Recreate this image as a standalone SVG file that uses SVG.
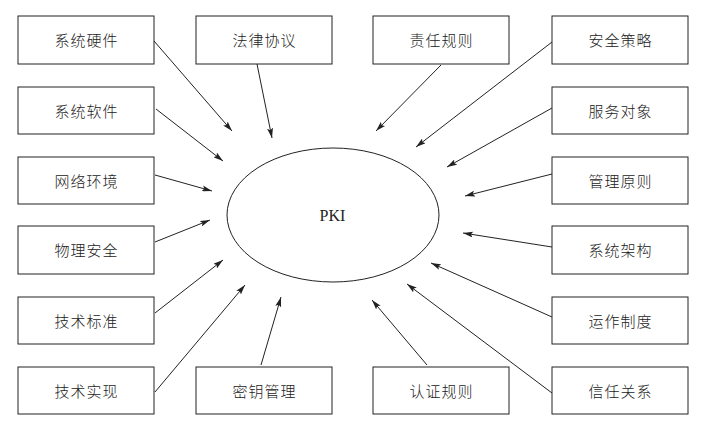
<svg xmlns="http://www.w3.org/2000/svg" width="701" height="422" viewBox="0 0 701 422">
<style>
.box{fill:#fff;stroke:#222;stroke-width:1}
.t{font-family:"Noto Sans CJK SC","Noto Sans",sans-serif;font-size:15px;font-weight:300;fill:#222;text-anchor:middle;letter-spacing:1px}
.c{stroke:#222;stroke-width:1;fill:none;marker-end:url(#ah)}
</style>
<defs>
<marker id="ah" viewBox="0 0 10 6" refX="10" refY="3" markerWidth="10" markerHeight="6" markerUnits="userSpaceOnUse" orient="auto">
<path d="M0,0 L10,3 L0,6 L2,3 z" fill="#222"/>
</marker>
</defs>
<rect width="701" height="422" fill="#fff"/>
<g id="connectors">
<line class="c" x1="154" y1="41" x2="232" y2="131"/>
<line class="c" x1="257" y1="64" x2="272" y2="138"/>
<line class="c" x1="156" y1="109" x2="223" y2="161"/>
<line class="c" x1="155" y1="175" x2="212" y2="191"/>
<line class="c" x1="441" y1="65" x2="376" y2="131"/>
<line class="c" x1="552" y1="42" x2="416" y2="147"/>
<line class="c" x1="552" y1="108" x2="447" y2="167"/>
<line class="c" x1="552" y1="174" x2="465" y2="196"/>
<line class="c" x1="155" y1="242" x2="210" y2="220"/>
<line class="c" x1="155" y1="313" x2="223" y2="260"/>
<line class="c" x1="155" y1="392" x2="245" y2="285"/>
<line class="c" x1="261" y1="365" x2="281" y2="297"/>
<line class="c" x1="552" y1="247" x2="463" y2="233"/>
<line class="c" x1="552" y1="317" x2="431" y2="263"/>
<line class="c" x1="427" y1="365" x2="372" y2="300"/>
<line class="c" x1="552" y1="393" x2="407" y2="284"/>
</g>
<g id="pki">
<ellipse cx="333" cy="215" rx="106" ry="67" fill="none" stroke="#222" stroke-width="1"/>
<text x="332.5" y="221" font-family="Liberation Serif,serif" font-size="16" text-anchor="middle" fill="#222">PKI</text>
</g>
<g id="n1"><rect class="box" x="18" y="16" width="136" height="48"/><text class="t" x="86.5" y="46">系统硬件</text></g>
<g id="n2"><rect class="box" x="18" y="87" width="136" height="47"/><text class="t" x="86.5" y="116.5">系统软件</text></g>
<g id="n3"><rect class="box" x="18" y="157" width="136" height="47"/><text class="t" x="86.5" y="186.5">网络环境</text></g>
<g id="n4"><rect class="box" x="18" y="226" width="136" height="48"/><text class="t" x="86.5" y="256">物理安全</text></g>
<g id="n5"><rect class="box" x="18" y="297" width="136" height="47"/><text class="t" x="86.5" y="326.5">技术标准</text></g>
<g id="n6"><rect class="box" x="18" y="367" width="136" height="47"/><text class="t" x="86.5" y="396.5">技术实现</text></g>
<g id="n7"><rect class="box" x="196" y="16" width="136" height="48"/><text class="t" x="264.5" y="46">法律协议</text></g>
<g id="n8"><rect class="box" x="196" y="367" width="136" height="47"/><text class="t" x="264.5" y="396.5">密钥管理</text></g>
<g id="n9"><rect class="box" x="373" y="16" width="136" height="48"/><text class="t" x="441.5" y="46">责任规则</text></g>
<g id="n10"><rect class="box" x="373" y="367" width="136" height="47"/><text class="t" x="441.5" y="396.5">认证规则</text></g>
<g id="n11"><rect class="box" x="552" y="16" width="136" height="48"/><text class="t" x="620.5" y="46">安全策略</text></g>
<g id="n12"><rect class="box" x="552" y="87" width="136" height="47"/><text class="t" x="620.5" y="116.5">服务对象</text></g>
<g id="n13"><rect class="box" x="552" y="157" width="136" height="47"/><text class="t" x="620.5" y="186.5">管理原则</text></g>
<g id="n14"><rect class="box" x="552" y="226" width="136" height="48"/><text class="t" x="620.5" y="256">系统架构</text></g>
<g id="n15"><rect class="box" x="552" y="297" width="136" height="47"/><text class="t" x="620.5" y="326.5">运作制度</text></g>
<g id="n16"><rect class="box" x="552" y="367" width="136" height="47"/><text class="t" x="620.5" y="396.5">信任关系</text></g>
</svg>
